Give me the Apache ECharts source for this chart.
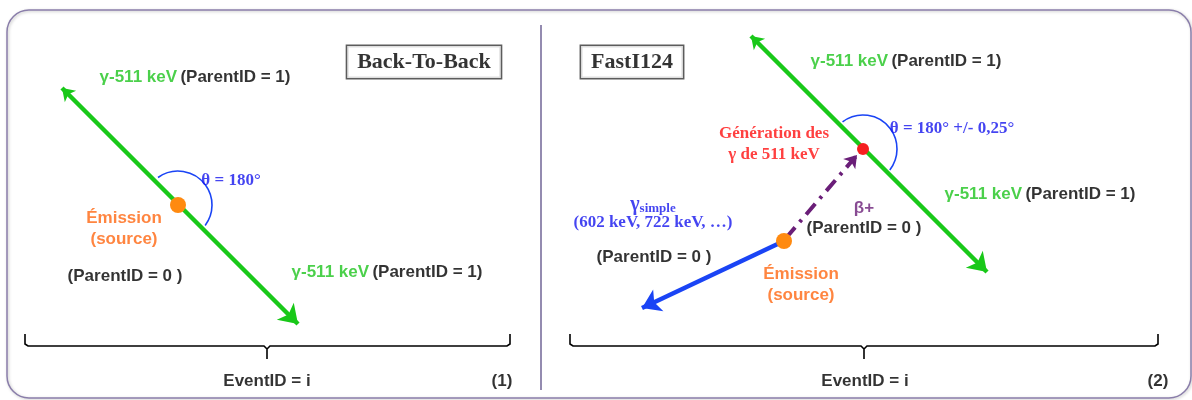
<!DOCTYPE html>
<html>
<head>
<meta charset="utf-8">
<script src="https://cdn.jsdelivr.net/npm/echarts@6.0.0/dist/echarts.min.js"></script>
<style>
html, body { margin: 0; padding: 0; background: #fff; }
#ch-main { width: 1192px; height: 400px; }
</style>
</head>
<body>
<div id="ch-main"></div>
<script>
let main = echarts.init(document.getElementById('ch-main'));

// diagram data, in page pixels (x right, y down)
const gammaPairs = [
    [[62, 88], [298, 324]],
    [[751, 36], [987, 272]]
];
const gammaSimple = [[784, 241], [642, 308]];
const betaTrack = [[786, 238], [857, 155]];

const emissionPts = [[178, 205], [784, 241]];
const annihilationPts = [[863, 149]];

// theta arcs: cx, cy, radius, start deg, end deg
const thetaArcs = [[178, 205, 34, -126, 37], [863, 149, 34, -127, 38]];

// braces: x left, x right, x middle, y
const braces = [[25, 510, 267, 346], [570, 1158, 864, 346]];

const panelTitles = ['Back-To-Back', 'FastI124'];
const titlePos = [[424, 62], [632, 62]];

// labels: x, y, rich text
const labels = [
    [195, 77, '{g|γ-511 keV} {k|(ParentID = 1)}'],
    [231, 181, '{t|θ = 180°}'],
    [124, 218, '{o|Émission}'],
    [124, 239, '{o|(source)}'],
    [125, 276, '{k|(ParentID = 0 )}'],
    [387, 272, '{g|γ-511 keV} {k|(ParentID = 1)}'],
    [267, 381, '{k|EventID = i}'],
    [502, 381, '{k|(1)}'],
    [906, 61, '{g|γ-511 keV} {k|(ParentID = 1)}'],
    [952, 129, '{t|θ = 180° +/- 0,25°}'],
    [774, 134, '{r|Génération des}'],
    [774, 155, '{r|γ de 511 keV}'],
    [1040, 194, '{g|γ-511 keV} {k|(ParentID = 1)}'],
    [864, 208, '{p|β+}'],
    [864, 228, '{k|(ParentID = 0 )}'],
    [653, 205, '{gs|γ}{ss|simple}'],
    [653, 223, '{t|(602 keV, 722 keV, …)}'],
    [654, 257, '{k|(ParentID = 0 )}'],
    [801, 274, '{o|Émission}'],
    [801, 295, '{o|(source)}'],
    [865, 381, '{k|EventID = i}'],
    [1158, 381, '{k|(2)}']
];

const SANS = '"Liberation Sans", Arial, sans-serif';
const SERIF = '"Liberation Serif", "Times New Roman", serif';
const GREEN = '#19c819';
const BLUE = '#1a44f5';
const TEXT_BLUE = '#1515ee';

function sans(color) {
    return { color: color, fontFamily: SANS, fontWeight: 'bold', fontSize: 17 };
}
function serif(color, size) {
    return { color: color, fontFamily: SERIF, fontWeight: 'bold', fontSize: size || 17 };
}

let option = {
    animation: false,
    grid: { left: 0, right: 0, top: 0, bottom: 0 },
    xAxis: { type: 'value', min: 0, max: 1192, show: false },
    yAxis: { type: 'value', min: 0, max: 400, inverse: true, show: false },
    graphic: [
        {
            type: 'rect', silent: true,
            shape: { x: 7, y: 10, width: 1184, height: 388, r: 22 },
            style: { fill: 'none', stroke: '#8a7eaa', lineWidth: 1.5, shadowBlur: 3, shadowColor: 'rgba(0,0,0,0.25)', shadowOffsetX: 1, shadowOffsetY: 1 }
        },
        {
            type: 'line', silent: true,
            shape: { x1: 541, y1: 25, x2: 541, y2: 390 },
            style: { stroke: '#948bb0', lineWidth: 2 }
        }
    ],
    series: [
        {
            type: 'lines',
            coordinateSystem: 'cartesian2d',
            silent: true,
            symbol: ['arrow', 'arrow'],
            symbolSize: [12, 18],
            lineStyle: { color: GREEN, width: 4.5, opacity: 1 },
            data: gammaPairs.map(c => ({ coords: c }))
        },
        {
            type: 'lines',
            coordinateSystem: 'cartesian2d',
            silent: true,
            symbol: ['none', 'arrow'],
            symbolSize: [12, 18],
            lineStyle: { color: BLUE, width: 4.5, opacity: 1 },
            data: [{ coords: gammaSimple }]
        },
        {
            type: 'lines',
            coordinateSystem: 'cartesian2d',
            silent: true,
            symbol: ['none', 'arrow'],
            symbolSize: [9, 12],
            lineStyle: { color: '#6a1e78', width: 4, opacity: 1, type: [14, 7, 3, 7] },
            data: [{ coords: betaTrack }]
        },
        {
            type: 'custom',
            silent: true,
            data: thetaArcs,
            renderItem: function (params, api) {
                let c = api.coord([api.value(0), api.value(1)]);
                let r = api.size([api.value(2), 0])[0];
                return {
                    type: 'arc',
                    shape: {
                        cx: c[0], cy: c[1], r: r,
                        startAngle: api.value(3) * Math.PI / 180,
                        endAngle: api.value(4) * Math.PI / 180,
                        clockwise: true
                    },
                    style: { stroke: BLUE, lineWidth: 1.6, fill: 'none' }
                };
            }
        },
        {
            type: 'custom',
            silent: true,
            data: braces,
            renderItem: function (params, api) {
                let a = api.coord([api.value(0), api.value(3)]);
                let b = api.coord([api.value(1), api.value(3)]);
                let m = api.coord([api.value(2), api.value(3)]);
                let y = a[1];
                return {
                    type: 'polyline',
                    shape: {
                        points: [
                            [a[0], y - 12], [a[0], y - 2], [a[0] + 3, y],
                            [m[0] - 3, y], [m[0], y + 3], [m[0], y + 13],
                            [m[0], y + 3], [m[0] + 3, y],
                            [b[0] - 3, y], [b[0], y - 2], [b[0], y - 12]
                        ]
                    },
                    style: { stroke: '#000', lineWidth: 1.6, fill: 'none' }
                };
            }
        },
        {
            type: 'scatter',
            silent: true,
            symbolSize: 16,
            itemStyle: { color: '#ff8a10', opacity: 1 },
            data: emissionPts
        },
        {
            type: 'scatter',
            silent: true,
            symbolSize: 12,
            itemStyle: { color: '#f52020', opacity: 1 },
            data: annihilationPts
        },
        {
            type: 'scatter',
            silent: true,
            symbolSize: 0,
            itemStyle: { color: 'rgba(0,0,0,0)' },
            label: {
                show: true,
                position: 'inside',
                formatter: p => p.name,
                rich: {
                    g: sans('#1ec41e'),
                    k: sans('#000'),
                    o: sans('#ff6610'),
                    p: sans('#6a1e78'),
                    t: serif(TEXT_BLUE),
                    r: serif('#ff1010'),
                    gs: serif(TEXT_BLUE, 20),
                    ss: Object.assign(serif(TEXT_BLUE, 13), { verticalAlign: 'bottom' })
                }
            },
            data: labels.map(l => ({ value: [l[0], l[1]], name: l[2] }))
        },
        {
            type: 'scatter',
            silent: true,
            symbolSize: 0,
            itemStyle: { color: 'rgba(0,0,0,0)' },
            label: {
                show: true,
                position: 'inside',
                formatter: p => p.name,
                fontFamily: SERIF,
                fontWeight: 'bold',
                fontSize: 22,
                color: '#000',
                borderColor: '#333',
                borderWidth: 1.5,
                padding: [6, 10, 4, 10],
                backgroundColor: '#fff'
            },
            data: panelTitles.map((t, i) => ({ value: titlePos[i], name: t }))
        }
    ]
};

main.setOption(option);
</script>
</body>
</html>
